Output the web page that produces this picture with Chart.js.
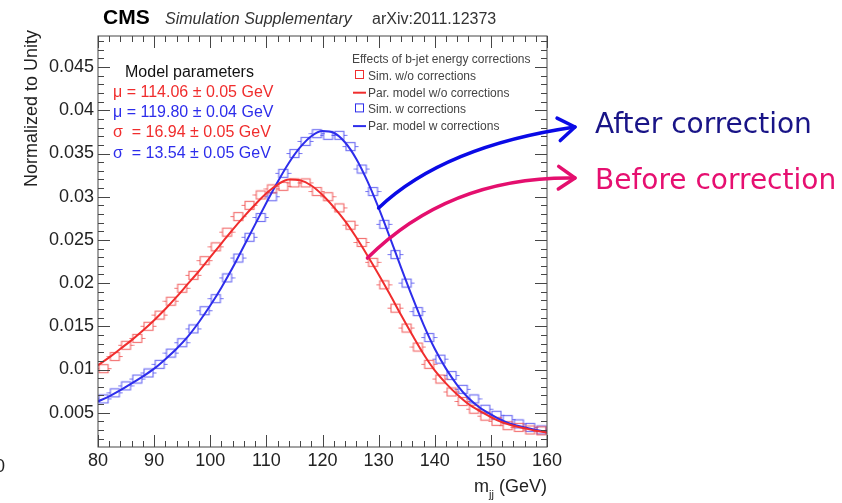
<!DOCTYPE html>
<html>
<head>
<meta charset="utf-8">
<script src="https://cdn.jsdelivr.net/npm/chart.js@4/dist/chart.umd.min.js"></script>
<style>
  html, body { margin: 0; padding: 0; background: #fff; }
  canvas { display: block; }
</style>
</head>
<body>
<canvas id="mjjChart" width="842" height="503"></canvas>
<script>
// m_jj bin centres (2 GeV bins)
const binCenters = [81, 83, 85, 87, 89, 91, 93, 95, 97, 99, 101, 103, 105, 107, 109, 111, 113, 115, 117, 119,
    121, 123, 125, 127, 129, 131, 133, 135, 137, 139, 141, 143, 145, 147, 149, 151, 153, 155, 157, 159];

// simulation, without b-jet energy corrections
const simSemCorrecao = [0.0101, 0.0115, 0.0128, 0.0136, 0.0150, 0.0163, 0.0179, 0.0194, 0.0209, 0.0226,
    0.0242, 0.0259, 0.0277, 0.0290, 0.0302, 0.0309, 0.0312, 0.0316, 0.0316, 0.0306,
    0.0300, 0.0287, 0.0267, 0.0247, 0.0224, 0.0198, 0.0171, 0.0148, 0.0126, 0.0106,
    0.0089, 0.0074, 0.0063, 0.0054, 0.0046, 0.0040, 0.0035, 0.0033, 0.0030, 0.0029];

// simulation, with corrections
const simComCorrecao = [0.0066, 0.0073, 0.0081, 0.0089, 0.0096, 0.0106, 0.0119, 0.0131, 0.0147, 0.0168,
    0.0182, 0.0206, 0.0229, 0.0253, 0.0276, 0.0300, 0.0327, 0.0350, 0.0364, 0.0373,
    0.0371, 0.0371, 0.0358, 0.0332, 0.0306, 0.0268, 0.0233, 0.0200, 0.0167, 0.0137,
    0.0112, 0.0093, 0.0077, 0.0066, 0.0054, 0.0047, 0.0042, 0.0037, 0.0033, 0.0030];

// parametric model curves, sampled every 2 GeV
const modeloX = [80, 82, 84, 86, 88, 90, 92, 94, 96, 98, 100, 102, 104, 106, 108, 110, 112, 114, 116, 118, 120,
    122, 124, 126, 128, 130, 132, 134, 136, 138, 140, 142, 144, 146, 148, 150, 152, 154, 156, 158, 160];
const modeloSemCorrecao = [0.0105, 0.0114, 0.0124, 0.0134, 0.0145, 0.0157, 0.0170, 0.0184, 0.0199, 0.0214,
    0.0230, 0.0246, 0.0262, 0.0277, 0.0291, 0.0304, 0.0314, 0.0320, 0.0319, 0.0313,
    0.0302, 0.0288, 0.0272, 0.0253, 0.0232, 0.0210, 0.0187, 0.0163, 0.0140, 0.0118,
    0.0099, 0.0084, 0.0071, 0.0060, 0.0052, 0.0045, 0.0039, 0.0035, 0.0032, 0.0029, 0.0027];
const modeloComCorrecao = [0.0063, 0.0069, 0.0076, 0.0084, 0.0092, 0.0101, 0.0112, 0.0124, 0.0138, 0.0155,
    0.0174, 0.0195, 0.0218, 0.0243, 0.0268, 0.0293, 0.0317, 0.0339, 0.0357, 0.0370,
    0.0376, 0.0374, 0.0363, 0.0344, 0.0318, 0.0287, 0.0253, 0.0218, 0.0184, 0.0152,
    0.0124, 0.0101, 0.0082, 0.0067, 0.0056, 0.0048, 0.0041, 0.0036, 0.0033, 0.0030, 0.0028];

const xTicks = [80, 90, 100, 110, 120, 130, 140, 150, 160];
const yTicks = [0.005, 0.01, 0.015, 0.02, 0.025, 0.03, 0.035, 0.04, 0.045];
const yTickLabels = ['0.005', '0.01', '0.015', '0.02', '0.025', '0.03', '0.035', '0.04', '0.045'];

const VERMELHO = 'rgb(240, 45, 45)';
const AZUL = 'rgb(45, 45, 235)';
const FONTE = '"Liberation Sans", Arial, sans-serif';

// open square marker with small horizontal error bar stubs
function marcador(cor) {
    const c = document.createElement('canvas');
    c.width = 17;
    c.height = 11;
    const g = c.getContext('2d');
    g.strokeStyle = cor;
    g.lineWidth = 1.2;
    g.strokeRect(4, 1.5, 9, 8);
    g.beginPath();
    g.moveTo(0.5, 5.5); g.lineTo(4, 5.5);
    g.moveTo(13, 5.5); g.lineTo(16.5, 5.5);
    g.stroke();
    return c;
}

function pontos(xs, ys) {
    return xs.map((x, i) => ({ x, y: ys[i] }));
}

// frame, inward ticks, text and the two arrows
const decoracao = {
    id: 'decoracao',
    afterDraw(chart) {
        const ctx = chart.ctx;
        const { left, right, top, bottom } = chart.chartArea;
        const sx = chart.scales.x;
        const sy = chart.scales.y;

        ctx.save();
        ctx.strokeStyle = 'rgb(70, 70, 70)';
        ctx.lineWidth = 1;
        ctx.strokeRect(left, top, right - left, bottom - top);

        ctx.beginPath();
        for (let v = 80; v <= 160; v += 2) {
            const px = Math.round(sx.getPixelForValue(v)) + 0.5;
            const len = v % 10 === 0 ? 12 : 6;
            ctx.moveTo(px, bottom); ctx.lineTo(px, bottom - len);
            ctx.moveTo(px, top); ctx.lineTo(px, top + len);
        }
        for (let k = 2; k <= 48; k++) {
            const py = Math.round(sy.getPixelForValue(k / 1000)) + 0.5;
            const len = k % 5 === 0 ? 12 : 6;
            ctx.moveTo(left, py); ctx.lineTo(left + len, py);
            ctx.moveTo(right, py); ctx.lineTo(right - len, py);
        }
        ctx.stroke();

        // header
        ctx.fillStyle = '#000';
        ctx.textBaseline = 'alphabetic';
        ctx.textAlign = 'left';
        ctx.font = 'bold 21px ' + FONTE;
        ctx.fillText('CMS', 103, 24);
        ctx.fillStyle = '#333';
        ctx.font = 'italic 16px ' + FONTE;
        ctx.fillText('Simulation Supplementary', 165, 24);
        ctx.font = '16px ' + FONTE;
        ctx.fillText('arXiv:2011.12373', 372, 24);

        // axis titles
        ctx.fillStyle = '#222';
        ctx.font = '18px ' + FONTE;
        ctx.save();
        ctx.translate(37, 30);
        ctx.rotate(-Math.PI / 2);
        ctx.textAlign = 'right';
        ctx.fillText('Normalized to Unity', 0, 0);
        ctx.restore();
        ctx.textAlign = 'right';
        ctx.fillText(' (GeV)', right, 492);
        const wGev = ctx.measureText(' (GeV)').width;
        ctx.font = '11px ' + FONTE;
        ctx.fillText('jj', right - wGev, 498);
        const wjj = ctx.measureText('jj').width;
        ctx.font = '18px ' + FONTE;
        ctx.fillText('m', right - wGev - wjj, 492);
        ctx.textAlign = 'left';
        ctx.fillText('0', -5, 472);

        // model parameters
        ctx.font = '16px ' + FONTE;
        ctx.fillStyle = '#111';
        ctx.fillText('Model parameters', 125, 77);
        ctx.fillStyle = VERMELHO;
        ctx.fillText('\u03bc = 114.06 \u00b1 0.05 GeV', 113, 97);
        ctx.fillStyle = AZUL;
        ctx.fillText('\u03bc = 119.80 \u00b1 0.04 GeV', 113, 117);
        ctx.fillStyle = VERMELHO;
        ctx.fillText('\u03c3  = 16.94 \u00b1 0.05 GeV', 113, 137);
        ctx.fillStyle = AZUL;
        ctx.fillText('\u03c3  = 13.54 \u00b1 0.05 GeV', 113, 158);

        // legend
        ctx.font = '12px ' + FONTE;
        ctx.fillStyle = '#444';
        ctx.fillText('Effects of b-jet energy corrections', 352, 63);
        const entradas = [
            ['Sim. w/o corrections', VERMELHO, false],
            ['Par. model w/o corrections', VERMELHO, true],
            ['Sim. w corrections', AZUL, false],
            ['Par. model w corrections', AZUL, true]
        ];
        entradas.forEach(([texto, cor, linha], i) => {
            const yb = 80 + i * 16.7;
            ctx.fillStyle = '#444';
            ctx.fillText(texto, 368, yb);
            ctx.strokeStyle = cor;
            if (linha) {
                ctx.lineWidth = 2;
                ctx.beginPath();
                ctx.moveTo(353, yb - 4); ctx.lineTo(366, yb - 4);
                ctx.stroke();
            } else {
                ctx.lineWidth = 1;
                ctx.strokeRect(355.5, yb - 9.5, 8, 8);
            }
        });

        // arrows from the curves to the labels
        const seta = (x0, y0, cx, cy, x1, y1, cor) => {
            ctx.strokeStyle = cor;
            ctx.lineWidth = 3.5;
            ctx.lineCap = 'round';
            ctx.lineJoin = 'round';
            ctx.beginPath();
            ctx.moveTo(x0, y0);
            ctx.quadraticCurveTo(cx, cy, x1, y1);
            ctx.stroke();
            const ang = Math.atan2(y1 - cy, x1 - cx);
            ctx.beginPath();
            ctx.moveTo(x1 - 20 * Math.cos(ang - 0.6), y1 - 20 * Math.sin(ang - 0.6));
            ctx.lineTo(x1, y1);
            ctx.lineTo(x1 - 20 * Math.cos(ang + 0.6), y1 - 20 * Math.sin(ang + 0.6));
            ctx.stroke();
        };
        seta(sx.getPixelForValue(130), sy.getPixelForValue(0.0287), 444, 146, 575, 127, 'rgb(10, 10, 230)');
        seta(sx.getPixelForValue(128), sy.getPixelForValue(0.0229), 450, 176, 575, 178, 'rgb(228, 15, 110)');

        ctx.font = '28px "DejaVu Sans", sans-serif';
        ctx.fillStyle = 'rgb(25, 20, 135)';
        ctx.fillText('After correction', 595, 133);
        ctx.fillStyle = 'rgb(230, 15, 112)';
        ctx.fillText('Before correction', 595, 189);
        ctx.restore();
    }
};

const ctx = document.getElementById('mjjChart').getContext('2d');

window.mjjChart = new Chart(ctx, {
    type: 'line',
    data: {
        datasets: [
            {
                label: 'Par. model w/o corrections',
                data: pontos(modeloX, modeloSemCorrecao),
                borderColor: VERMELHO,
                borderWidth: 2,
                pointRadius: 0,
                cubicInterpolationMode: 'monotone'
            },
            {
                label: 'Par. model w corrections',
                data: pontos(modeloX, modeloComCorrecao),
                borderColor: AZUL,
                borderWidth: 2,
                pointRadius: 0,
                cubicInterpolationMode: 'monotone'
            },
            {
                label: 'Sim. w/o corrections',
                data: pontos(binCenters, simSemCorrecao),
                showLine: false,
                pointStyle: marcador('rgba(240, 80, 80, 0.8)'),
                pointRadius: 5
            },
            {
                label: 'Sim. w corrections',
                data: pontos(binCenters, simComCorrecao),
                showLine: false,
                pointStyle: marcador('rgba(80, 80, 240, 0.8)'),
                pointRadius: 5
            }
        ]
    },
    options: {
        responsive: false,
        animation: false,
        devicePixelRatio: 1,
        layout: {
            padding: { left: 0, right: 295, top: 36, bottom: 0 }
        },
        plugins: {
            legend: { display: false },
            tooltip: { enabled: false }
        },
        scales: {
            x: {
                type: 'linear',
                min: 80,
                max: 160,
                grid: { display: false, drawTicks: false },
                border: { display: false },
                afterBuildTicks: (s) => { s.ticks = xTicks.map(v => ({ value: v })); },
                afterFit: (s) => { s.height = 56; },
                ticks: {
                    padding: 3,
                    color: '#222',
                    font: { family: FONTE, size: 18 },
                    maxRotation: 0,
                    callback: (v) => String(v)
                }
            },
            y: {
                type: 'linear',
                min: 0.00103,
                max: 0.0486,
                grid: { display: false, drawTicks: false },
                border: { display: false },
                afterBuildTicks: (s) => { s.ticks = yTicks.map(v => ({ value: v })); },
                afterFit: (s) => { s.width = 98; },
                ticks: {
                    padding: 4,
                    color: '#222',
                    font: { family: FONTE, size: 18 },
                    callback: (v, i) => yTickLabels[i]
                }
            }
        }
    },
    plugins: [decoracao]
});
</script>
</body>
</html>
